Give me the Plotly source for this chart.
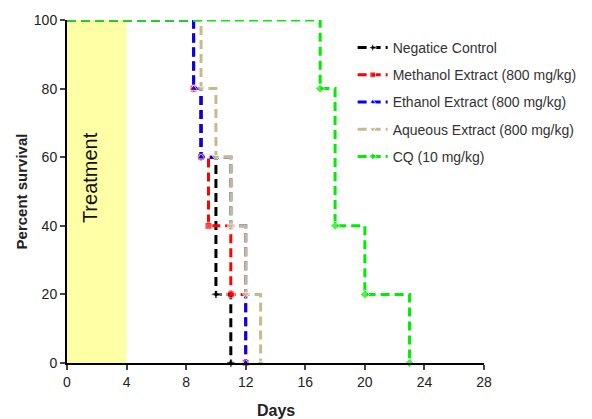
import plotly.graph_objects as go

# Data (days, percent survival)
names = ["Negatice Control", "Methanol Extract (800 mg/kg)", "Ethanol Extract (800 mg/kg)",
         "Aqueous Extract (800 mg/kg)", "CQ (10 mg/kg)"]
neg_days = [0, 8.5, 9, 10, 11]
neg_surv = [100, 80, 60, 20, 0]
meth_days = [0, 8.5, 9, 9.5, 11, 12]
meth_surv = [100, 80, 60, 40, 20, 0]
eth_days = [0, 8.5, 9, 11, 12]
eth_surv = [100, 80, 60, 40, 0]
aq_days = [0, 9, 10, 11, 12, 13]
aq_surv = [100, 80, 60, 40, 20, 0]
cq_days = [0, 17, 18, 20, 23]
cq_surv = [100, 80, 40, 20, 0]

x_ticks = [0, 4, 8, 12, 16, 20, 24, 28]
y_ticks = [0, 20, 40, 60, 80, 100]
treatment_end = 4

series = [
    (neg_days, neg_surv, "#000000", "cross"),
    (meth_days, meth_surv, "#FF0000", "square"),
    (eth_days, eth_surv, "#0000FF", "triangle-up"),
    (aq_days, aq_surv, "#C8BA8C", "triangle-down"),
    (cq_days, cq_surv, "#00EE00", "diamond"),
]

fig = go.Figure()
for name, (xs, ys, col, sym) in zip(names, series):
    fig.add_trace(go.Scatter(
        x=xs, y=ys, name=name, mode="lines+markers",
        line=dict(color=col, width=3, dash="9px,5px", shape="hv"),
        marker=dict(color=col, symbol=sym, size=[0] + [7] * (len(xs) - 1)),
        legendgroup=name, cliponaxis=False,
    ))

fig.add_shape(type="rect", x0=0, x1=treatment_end, y0=0, y1=100, xref="x", yref="y",
              fillcolor="#FFFFA6", line_width=0, layer="below")
fig.add_annotation(x=1.5, y=54, text="Treatment", textangle=-90, showarrow=False,
                   font=dict(family="Arial", size=20, color="#111111"))
# axis titles
fig.add_annotation(xref="paper", yref="paper", x=0.5, y=-0.108, yanchor="top",
                   text="<b>Days</b>", showarrow=False,
                   font=dict(family="Arial", size=16, color="#222222"))
fig.add_annotation(xref="paper", yref="paper", x=-0.108, y=0.5, xanchor="center",
                   text="<b>Percent survival</b>", textangle=-90, showarrow=False,
                   font=dict(family="Arial", size=15, color="#222222"))

fig.update_layout(
    width=584, height=411,
    margin=dict(l=59, r=108, t=12, b=56, autoexpand=False),
    plot_bgcolor="white", paper_bgcolor="white",
    font=dict(family="Arial", color="#111111"),
    legend=dict(x=0.685, y=0.965, xanchor="left", yanchor="top", traceorder="grouped",
                tracegroupgap=6, font=dict(size=14, color="#333333"),
                bgcolor="rgba(0,0,0,0)", itemwidth=30),
    xaxis=dict(range=[0, 28], tickvals=x_ticks, ticks="outside", ticklen=5, tickwidth=2,
               showline=True, linecolor="black", linewidth=2, showgrid=False, zeroline=False,
               automargin=False, tickprefix="<b>", ticksuffix="</b>",
               tickfont=dict(size=14, color="#222222")),
    yaxis=dict(range=[0, 100], tickvals=y_ticks, ticks="outside", ticklen=5, tickwidth=2,
               showline=True, linecolor="black", linewidth=2, showgrid=False, zeroline=False,
               automargin=False, tickprefix="<b>", ticksuffix="</b>",
               tickfont=dict(size=14, color="#222222")),
)

fig.write_html("out.html")
